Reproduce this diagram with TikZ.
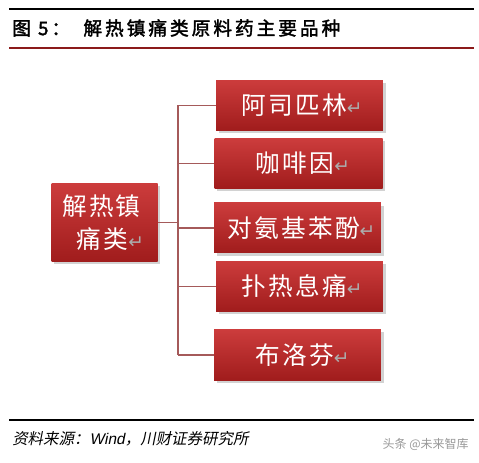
\documentclass[tikz,border=0pt]{standalone}
\usepackage{fontspec}
\setmainfont{Liberation Sans}
\newfontfamily\cjk{Noto Sans CJK SC}
\newfontfamily\cjkbox{Noto Sans CJK SC}[LetterSpace=9]
\newfontfamily\cjkb{Noto Sans CJK SC}[FakeBold=2,LetterSpace=16]
\newfontfamily\cjki{Noto Sans CJK SC}[FakeSlant=0.2]
\newfontfamily\ital{Liberation Sans}[FakeSlant=0.2]
\newfontfamily\sym{DejaVu Sans}
\usetikzlibrary{shadows}
\definecolor{boxtop}{HTML}{CC3C3C}
\definecolor{boxbot}{HTML}{A01C1C}
\definecolor{linec}{HTML}{A55A5A}
\definecolor{titlered}{HTML}{8B1A1A}
\newcommand{\parmark}{{\sym\color{gray!65}\fontsize{14pt}{14pt}\selectfont ↵}}
\tikzset{
  redbox/.style={draw=none, top color=boxtop, bottom color=boxbot,
    drop shadow={shadow xshift=2pt, shadow yshift=-2pt, opacity=0.35},
    text=white, font=\cjkbox\fontsize{18.5pt}{25pt}\selectfont, inner sep=0pt, align=left},
  conn/.style={draw=linec, line width=0.8pt}
}
\begin{document}
\begin{tikzpicture}[x=0.75pt,y=-0.75pt]
\useasboundingbox (0,0) rectangle (479,463);
\fill[white] (0,0) rectangle (479,463);
% header
\draw[black, line width=0.9pt] (9,9) -- (474,9);
\node[anchor=west, inner sep=0pt, font=\cjkb\fontsize{14pt}{15pt}\selectfont] (title) at (12,28) {图 5：\hspace{10pt}解热镇痛类原料药主要品种};
\draw[titlered, line width=0.9pt] (9,48) -- (474,48);
% boxes
\node[redbox, minimum width=79.5pt, minimum height=59pt, text width=79.5pt] (root) at (104.5,222.5) {\hspace*{8pt}解热镇\\\hspace*{19pt}痛类\parmark};
\node[redbox, minimum width=125pt, minimum height=38pt, text width=125pt] (b1) at (299.5,105.5) {\hspace*{19pt}阿司匹林\parmark};
\node[redbox, minimum width=126pt, minimum height=37pt, text width=126pt] (b2) at (298.5,163.5) {\hspace*{31pt}咖啡因\parmark};
\node[redbox, minimum width=125pt, minimum height=37.5pt, text width=125pt] (b3) at (297.5,228) {\hspace*{10pt}对氨基苯酚\parmark};
\node[redbox, minimum width=125pt, minimum height=38pt, text width=125pt] (b4) at (299.5,286.5) {\hspace*{19pt}扑热息痛\parmark};
\node[redbox, minimum width=125pt, minimum height=38pt, text width=125pt] (b5) at (297.5,355) {\hspace*{31pt}布洛芬\parmark};
% connectors
\coordinate (j) at (178,222.5);
\draw[conn] (root.east) -- (j);
\draw[conn] (178,105.5) -- (178,355);
\draw[conn] (178,105.5) -- (b1.west);
\draw[conn] (178,163.5) -- (b2.west);
\draw[conn] (178,228) -- (b3.west);
\draw[conn] (178,286.5) -- (b4.west);
\draw[conn] (178,355) -- (b5.west);
% footer
\draw[black, line width=0.9pt] (9,420) -- (474,420);
\node[anchor=west, inner sep=0pt, font=\fontsize{11.6pt}{13pt}\selectfont] (src) at (12,439) {{\cjki 资料来源：}{\ital Wind}{\cjki ，川财证券研究所}};
\node[anchor=east, inner sep=0pt, text=gray!80, font=\cjk\fontsize{9pt}{11pt}\selectfont] (wm) at (469,444) {头条 @未来智库};
\end{tikzpicture}
\end{document}
